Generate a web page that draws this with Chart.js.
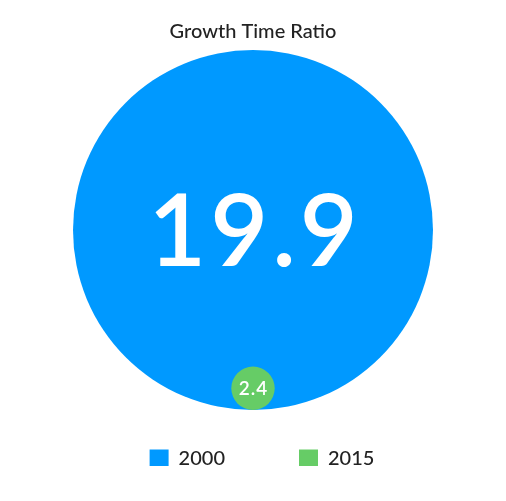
<!DOCTYPE html>
<html>
<head>
<meta charset="utf-8">
<title>Growth Time Ratio</title>
<script src="https://cdn.jsdelivr.net/npm/chart.js@4.4.1/dist/chart.umd.min.js"></script>
<style>
  html, body { margin: 0; padding: 0; background: #ffffff; }
  #wrap { width: 506px; height: 501px; }
</style>
</head>
<body>
<div id="wrap"><canvas id="chart" width="506" height="501"></canvas></div>
<script>
// Data
const years = ['2000', '2015'];
const ratios = [19.9, 2.4];

// Styles
const colors = ['#0099ff', '#66cc66'];
const labelSizes = [100, 19];
const labelSpacing = [4, 1];
const fontFamily = 'Lato, "Open Sans", sans-serif';

// Circles sit on the y = 0 line, radius taken from the y scale so it matches the value
function pointSize(ctx) {
  const y = ctx.chart.scales.y;
  if (!y || !ctx.raw) return 0;
  return y.getPixelForValue(0) - y.getPixelForValue(ctx.raw.y);
}

// Value written in the middle of each circle
const valueLabels = {
  id: 'valueLabels',
  afterDatasetsDraw(chart) {
    const ctx = chart.ctx;
    ctx.save();
    ctx.fillStyle = '#ffffff';
    ctx.textAlign = 'center';
    ctx.textBaseline = 'middle';
    chart.data.datasets.forEach((ds, i) => {
      const el = chart.getDatasetMeta(i).data[0];
      if (!el) return;
      ctx.font = '600 ' + labelSizes[i] + 'px ' + fontFamily;
      ctx.letterSpacing = labelSpacing[i] + 'px';
      ctx.fillText(ratios[i].toString(), el.x + labelSpacing[i] / 2, el.y + labelSizes[i] * 0.04);
    });
    ctx.restore();
  }
};

// Legend padding is wide for the horizontal gap, pull the row back up and a bit right
const legendLift = {
  id: 'legendLift',
  afterLayout(chart) {
    const l = chart.legend;
    l.top -= 35;
    l.bottom -= 35;
    l.left += 9;
    l.right += 9;
  }
};

const datasets = years.map((year, i) => ({
  label: year,
  data: [{ x: 0, y: ratios[i] }],
  backgroundColor: colors[i],
  pointBackgroundColor: colors[i],
  pointBorderWidth: 0,
  pointRadius: pointSize,
  pointHoverRadius: pointSize,
  pointHoverBorderWidth: 0,
  order: years.length - i,
  clip: false
}));

new Chart(document.getElementById('chart'), {
  type: 'scatter',
  data: { datasets },
  plugins: [valueLabels, legendLift],
  options: {
    responsive: false,
    animation: false,
    events: [],
    layout: { padding: 0 },
    scales: {
      x: { display: false, min: -1, max: 1 },
      y: { display: false, min: 0, max: Math.max(...ratios) * 2 }
    },
    plugins: {
      title: {
        display: true,
        text: 'Growth Time Ratio',
        color: '#222222',
        font: { family: fontFamily, size: 20, weight: '500' },
        padding: { top: 20, bottom: 6 }
      },
      legend: {
        position: 'bottom',
        maxHeight: 91,
        labels: {
          boxWidth: 19,
          boxHeight: 19,
          padding: 74,
          color: '#222222',
          font: { family: fontFamily, size: 20, weight: '500' },
          sort: (a, b) => a.datasetIndex - b.datasetIndex
        }
      },
      tooltip: { enabled: false }
    }
  }
});
</script>
</body>
</html>
